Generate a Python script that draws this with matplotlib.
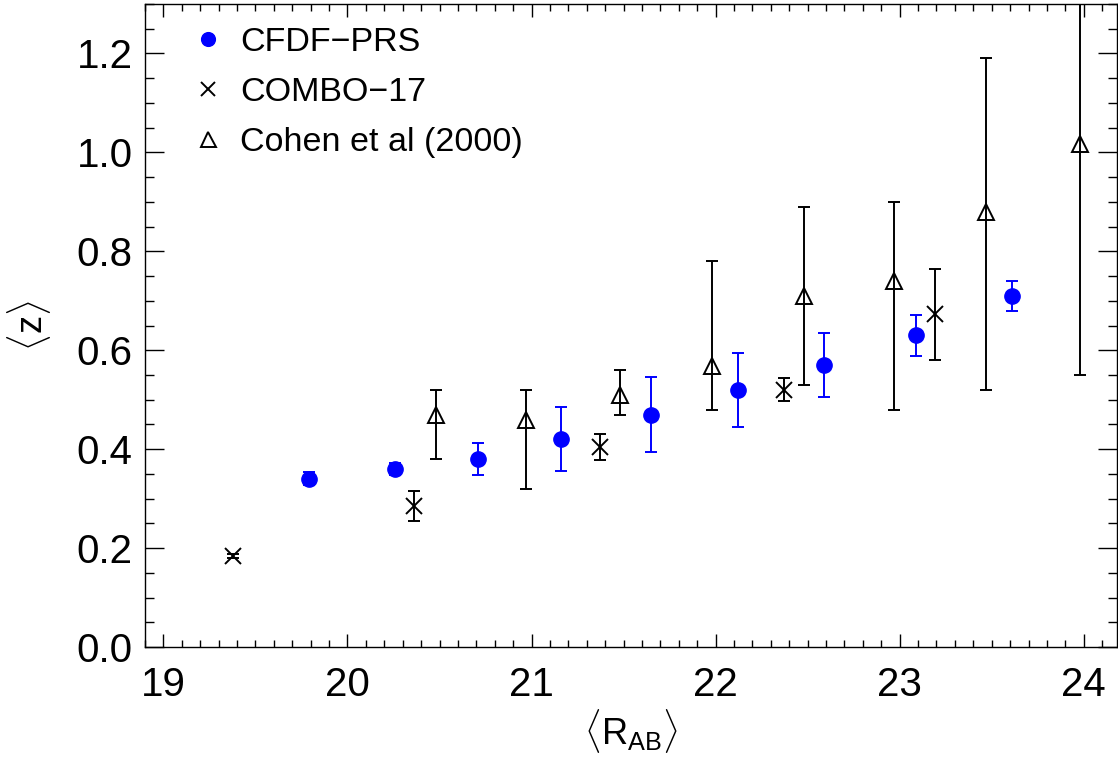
import matplotlib
matplotlib.use('Agg')
import matplotlib.pyplot as plt
from matplotlib.ticker import MultipleLocator, FormatStrFormatter

plt.rcParams['font.family'] = ['Liberation Sans', 'DejaVu Sans']
plt.rcParams['mathtext.fontset'] = 'custom'
plt.rcParams['mathtext.rm'] = 'Liberation Sans'
plt.rcParams['mathtext.it'] = 'Liberation Sans'

# CFDF-PRS
cfdf_r = [19.79, 20.26, 20.71, 21.16, 21.65, 22.12, 22.59, 23.09, 23.61]
cfdf_z = [0.34, 0.36, 0.38, 0.42, 0.47, 0.52, 0.57, 0.63, 0.71]
cfdf_err = [0.013, 0.013, 0.032, 0.065, 0.075, 0.075, 0.065, 0.042, 0.03]

# COMBO-17
combo_r = [19.38, 20.36, 21.37, 22.37, 23.19]
combo_z = [0.184, 0.285, 0.404, 0.52, 0.673]
combo_err = [0.005, 0.03, 0.026, 0.023, 0.092]

# Cohen et al (2000)
cohen_r = [20.48, 20.97, 21.48, 21.98, 22.48, 22.97, 23.47, 23.98]
cohen_z = [0.469, 0.459, 0.509, 0.568, 0.709, 0.739, 0.879, 1.018]
cohen_lo = [0.38, 0.32, 0.47, 0.48, 0.53, 0.48, 0.52, 0.55]
cohen_hi = [0.52, 0.52, 0.56, 0.78, 0.89, 0.90, 1.19, 1.50]

fig = plt.figure(figsize=(11.18, 7.61), dpi=100)
ax = fig.add_axes([0.1297, 0.1498, 0.8693, 0.8449])

eb_cfdf = ax.errorbar(cfdf_r, cfdf_z, yerr=cfdf_err, fmt='o', color='blue',
                      ms=11, capsize=4, elinewidth=1.4, capthick=1.4)
eb_combo = ax.errorbar(combo_r, combo_z, yerr=combo_err, fmt='x', color='black',
                       ms=11, mew=1.4, capsize=4.3, elinewidth=1.4, capthick=1.4)
cohen_err = [[z - lo for z, lo in zip(cohen_z, cohen_lo)],
             [hi - z for z, hi in zip(cohen_z, cohen_hi)]]
eb_cohen = ax.errorbar(cohen_r, cohen_z, yerr=cohen_err, fmt='^', color='black',
                       mfc='none', ms=12, mew=1.4, capsize=4.3,
                       elinewidth=1.4, capthick=1.4)

ax.set_xlim(18.9, 24.18)
ax.set_ylim(0, 1.3)

ax.xaxis.set_major_locator(MultipleLocator(1))
ax.xaxis.set_minor_locator(MultipleLocator(0.1))
ax.yaxis.set_major_locator(MultipleLocator(0.2))
ax.yaxis.set_minor_locator(MultipleLocator(0.05))
ax.yaxis.set_major_formatter(FormatStrFormatter('%.1f'))

ax.tick_params(which='both', direction='in', top=True, right=True, width=1)
ax.tick_params(axis='x', which='major', length=9.5, labelsize=29, pad=14)
ax.tick_params(axis='x', which='minor', length=5)
ax.tick_params(axis='y', which='major', length=13.7, labelsize=29, pad=9)
ax.tick_params(axis='y', which='minor', length=6.8)
for s in ax.spines.values():
    s.set_linewidth(1)

ax.set_xlabel(r'$\langle\mathrm{R_{AB}}\rangle$', fontsize=26, labelpad=2)
ax.set_ylabel(r'$\langle\mathrm{z}\rangle$', fontsize=26, labelpad=17)

ax.legend([eb_cfdf[0], eb_combo[0], eb_cohen[0]],
          ['CFDF\u2212PRS', 'COMBO\u221217', 'Cohen et al (2000)'],
          loc='upper left', bbox_to_anchor=(0.033, 0.985), frameon=False,
          fontsize=24.5, handlelength=1.0, handletextpad=0.45,
          labelspacing=0.56, markerscale=0.9, borderaxespad=0)

fig.savefig('out.png', dpi=100)
